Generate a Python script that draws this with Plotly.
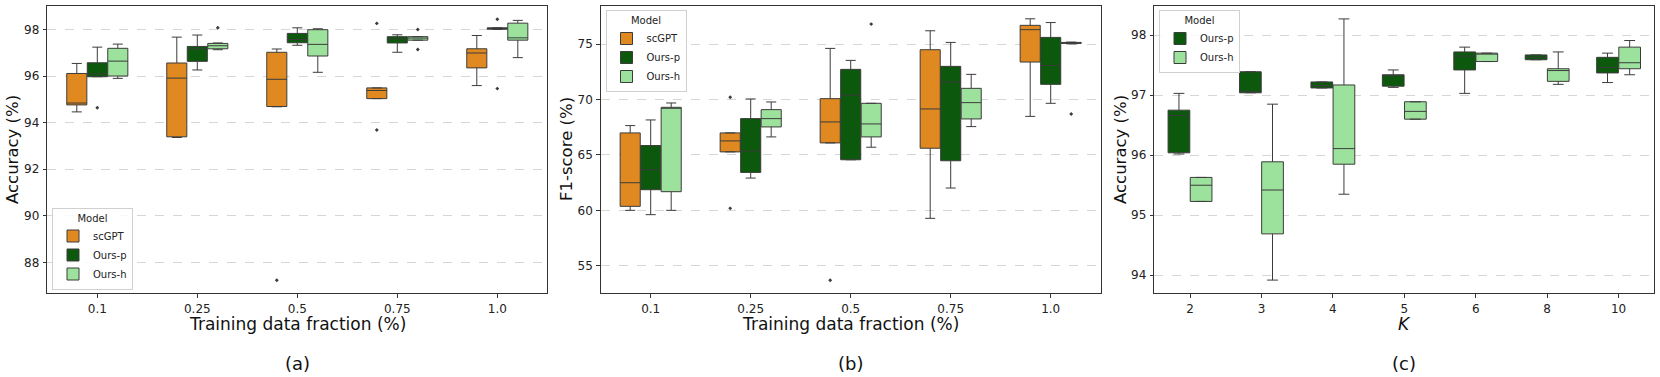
import plotly.graph_objects as go

FRACTIONS = ["0.1", "0.25", "0.5", "0.75", "1.0"]
K_VALUES = ["2", "3", "4", "5", "6", "8", "10"]

# each box: (lower whisker, q1, median, q3, upper whisker)
acc_scgpt = [(94.46, 94.76, 94.84, 96.11, 96.54), (93.36, 93.39, 95.91, 96.56, 97.67),
             (94.68, 94.69, 95.86, 97.02, 97.16), (95.03, 95.03, 95.38, 95.49, 95.49),
             (95.59, 96.35, 96.99, 97.17, 97.74)]
acc_ours_p = [(95.97, 95.97, 96.09, 96.57, 97.24), (96.26, 96.63, 97.17, 97.27, 97.76),
              (97.32, 97.43, 97.57, 97.83, 98.07), (97.02, 97.42, 97.59, 97.69, 97.77),
              (98.00, 98.01, 98.04, 98.07, 98.07)]
acc_ours_h = [(95.90, 96.00, 96.64, 97.19, 97.37), (97.13, 97.17, 97.30, 97.40, 97.42),
              (96.16, 96.86, 97.36, 97.99, 98.03), (97.54, 97.54, 97.63, 97.69, 97.69),
              (96.79, 97.54, 97.64, 98.27, 98.39)]
acc_scgpt_out = [[], [], [87.23], [98.26, 93.68], []]
acc_ours_p_out = [[94.64], [], [], [], [98.44, 95.46]]
acc_ours_h_out = [[], [98.07], [], [98.00, 97.14], []]

f1_scgpt = [(60.01, 60.37, 62.50, 66.99, 67.65), (65.28, 65.28, 66.27, 66.99, 66.99),
            (66.09, 66.09, 67.98, 70.08, 74.61), (59.29, 65.61, 69.15, 74.49, 76.20),
            (68.48, 73.38, 76.30, 76.69, 77.28)]
f1_ours_p = [(59.62, 61.87, 63.67, 65.85, 68.16), (62.92, 63.43, 65.37, 68.28, 70.05),
             (64.57, 64.57, 70.38, 72.72, 73.53), (62.02, 64.48, 71.58, 72.99, 75.15),
             (69.66, 71.37, 73.07, 75.60, 76.94)]
f1_ours_h = [(60.01, 61.69, 69.25, 69.30, 69.69), (66.63, 67.53, 68.28, 69.09, 69.78),
             (65.70, 66.63, 67.80, 69.66, 69.66), (67.56, 68.25, 69.72, 71.01, 72.27),
             (75.02, 75.06, 75.10, 75.15, 75.18)]
f1_scgpt_out = [[], [70.20, 60.19], [53.71], [], []]
f1_ours_p_out = [[], [], [], [], []]
f1_ours_h_out = [[], [], [76.80], [], [68.70]]

k_ours_p = [(96.02, 96.04, 96.66, 96.75, 97.03), (97.04, 97.04, 97.05, 97.39, 97.39),
            (97.12, 97.12, 97.16, 97.22, 97.22), (97.13, 97.15, 97.33, 97.34, 97.42),
            (97.03, 97.42, 97.65, 97.72, 97.80), (97.59, 97.59, 97.63, 97.67, 97.67),
            (97.21, 97.37, 97.46, 97.63, 97.70)]
k_ours_h = [(95.23, 95.23, 95.50, 95.63, 95.63), (93.92, 94.69, 95.42, 95.89, 96.85),
            (95.35, 95.85, 96.11, 97.17, 98.27), (96.60, 96.60, 96.73, 96.89, 96.89),
            (97.56, 97.56, 97.69, 97.70, 97.70), (97.18, 97.23, 97.41, 97.44, 97.72),
            (97.34, 97.44, 97.54, 97.80, 97.91)]
k_ours_p_out = [[], [], [], [], [], [], []]
k_ours_h_out = [[], [], [], [], [], [], []]

COLORS = {"scGPT": "#df8920", "Ours-p": "#0c580c", "Ours-h": "#9ce29c"}
EDGE = "#3c3c3c"
FONT = "DejaVu Sans"
W, H = 1660, 377

# panel frames in pixels: (left, right), shared top/bottom
panels_px = [(47.3, 547.3), (600.7, 1100.7), (1154.3, 1654.3)]
top_px, bottom_px = 5.7, 293.3
ytitle_px = [12.5, 566.5, 1120.5]

fig = go.Figure()


def add_panel(idx, cats, series, box_w):
    ax = "" if idx == 0 else str(idx + 1)
    leg = "legend" if idx == 0 else f"legend{idx + 1}"
    n = len(series)
    for i, (name, stats, outs) in enumerate(series):
        off = (i - (n - 1) / 2) * box_w
        pos = [j + off for j in range(len(cats))]
        lo, q1, med, q3, hi = zip(*stats)
        fig.add_trace(go.Box(
            x=pos, q1=q1, median=med, q3=q3, lowerfence=lo, upperfence=hi,
            orientation="v", width=box_w * 0.98, name=name,
            fillcolor=COLORS[name], line=dict(color=EDGE, width=1),
            whiskerwidth=0.5, boxpoints=False, legend=leg,
            xaxis="x" + ax, yaxis="y" + ax,
        ))
        ox = [pos[j] for j, o in enumerate(outs) for _ in o]
        oy = [v for o in outs for v in o]
        if oy:
            fig.add_trace(go.Scatter(
                x=ox, y=oy, mode="markers", showlegend=False,
                marker=dict(symbol="diamond", size=3, color=EDGE),
                xaxis="x" + ax, yaxis="y" + ax,
            ))


add_panel(0, FRACTIONS, [("scGPT", acc_scgpt, acc_scgpt_out),
                         ("Ours-p", acc_ours_p, acc_ours_p_out),
                         ("Ours-h", acc_ours_h, acc_ours_h_out)], 0.205)
add_panel(1, FRACTIONS, [("scGPT", f1_scgpt, f1_scgpt_out),
                         ("Ours-p", f1_ours_p, f1_ours_p_out),
                         ("Ours-h", f1_ours_h, f1_ours_h_out)], 0.205)
add_panel(2, K_VALUES, [("Ours-p", k_ours_p, k_ours_p_out),
                        ("Ours-h", k_ours_h, k_ours_h_out)], 0.31)

y_ranges = [[86.67, 99.02], [52.53, 78.46], [93.70, 98.49]]
y_ticks = [[88, 90, 92, 94, 96, 98], [55, 60, 65, 70, 75], [94, 95, 96, 97, 98]]
y_titles = ["Accuracy (%)", "F1-score (%)", "Accuracy (%)"]
x_titles = ["Training data fraction (%)", "Training data fraction (%)", "<i>K</i>"]
x_cats = [FRACTIONS, FRACTIONS, K_VALUES]
labels = ["(a)", "(b)", "(c)"]

ydom = [1 - bottom_px / H, 1 - top_px / H]
axis_common = dict(showline=True, mirror=True, linecolor="#333333", linewidth=1,
                   ticks="outside", ticklen=3.5, tickwidth=0.8, tickcolor="#333333",
                   tickfont=dict(size=12, color="#222222"), zeroline=False,
                   automargin=False, ticklabelstandoff=1)
layout = {}
annotations = []
for i, (l, r) in enumerate(panels_px):
    ax = "" if i == 0 else str(i + 1)
    cats = x_cats[i]
    layout["xaxis" + ax] = dict(
        axis_common, domain=[l / W, r / W], anchor="y" + ax,
        range=[-0.5, len(cats) - 0.5], tickvals=list(range(len(cats))),
        ticktext=cats, showgrid=False,
    )
    layout["yaxis" + ax] = dict(
        axis_common, domain=ydom, anchor="x" + ax, range=y_ranges[i],
        tickvals=y_ticks[i], showgrid=True, gridcolor="#d6d6d6", griddash="dash",
        gridwidth=0.8,
    )
    mid = (l + r) / 2 / W
    annotations.append(dict(
        text=x_titles[i], x=mid, y=1 - 313 / H, xref="paper", yref="paper",
        showarrow=False, font=dict(size=17, color="#111111"),
        xanchor="center", yanchor="top", borderpad=0))
    annotations.append(dict(
        text=y_titles[i], x=ytitle_px[i] / W, y=1 - (top_px + bottom_px) / 2 / H,
        xref="paper", yref="paper", showarrow=False, textangle=-90,
        font=dict(size=16.5, color="#111111"),
        xanchor="center", yanchor="middle", borderpad=0))
    annotations.append(dict(
        text=labels[i], x=mid, y=1 - 363 / H, xref="paper", yref="paper",
        showarrow=False, font=dict(size=18, color="#111111"),
        xanchor="center", yanchor="middle", borderpad=0))

legend_common = dict(
    bgcolor="rgba(255,255,255,0.85)", bordercolor="#d0d0d0", borderwidth=1,
    font=dict(size=10, color="#222222"), tracegroupgap=0, itemwidth=30,
    title=dict(text="Model", side="top center", font=dict(size=10)),
    xanchor="left",
)
layout["legend"] = dict(legend_common, x=52 / W, y=1 - 289.5 / H, yanchor="bottom")
layout["legend2"] = dict(legend_common, x=605.5 / W, y=1 - 10 / H, yanchor="top")
layout["legend3"] = dict(legend_common, x=1159 / W, y=1 - 10 / H, yanchor="top")

fig.update_layout(
    **layout,
    width=W, height=H, margin=dict(l=0, r=0, t=0, b=0),
    paper_bgcolor="white", plot_bgcolor="white",
    font=dict(family=FONT, color="#222222"),
    annotations=annotations,
)

# the page body has a default margin; drop it so the figure sits at the window origin
fig.write_html(
    "out.html",
    config={"displayModeBar": False},
    post_script="document.body.style.margin = '0';",
)
